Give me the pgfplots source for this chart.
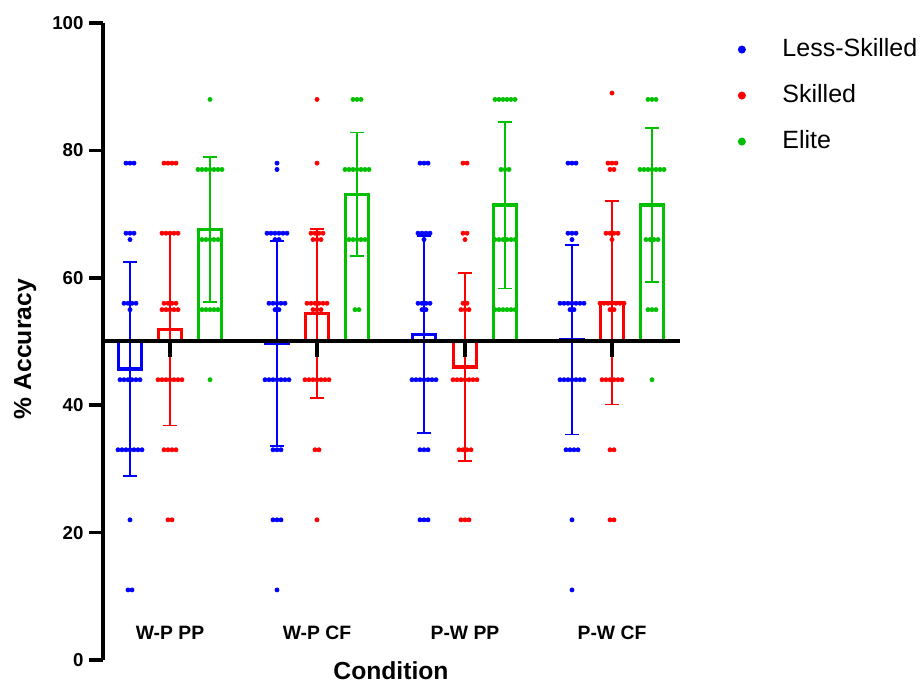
\documentclass[border=0pt]{standalone}
\usepackage{fontspec}
\setmainfont{Liberation Sans}
\usepackage{pgfplots}
\usepackage{pgfplotstable}
\pgfplotsset{compat=1.18}
\definecolor{lsblue}{RGB}{0,0,255}
\definecolor{skred}{RGB}{255,0,0}
\definecolor{elgreen}{RGB}{0,192,0}

% bars: x position (px-like units), mean, sd
\pgfplotstableread[row sep=\\]{
x m sd\\ 130 45.7 16.8\\ 277 49.7 16.1\\ 424 51.1 15.5\\ 572 50.3 14.9\\
}\barless
\pgfplotstableread[row sep=\\]{
x m sd\\ 170 51.9 15.1\\ 317 54.4 13.3\\ 465 46.0 14.8\\ 612 56.1 16.0\\
}\barskilled
\pgfplotstableread[row sep=\\]{
x m sd\\ 210 67.6 11.4\\ 357 73.1 9.7\\ 505 71.4 13.1\\ 652 71.4 12.1\\
}\barelite

% individual scores
\pgfplotstableread[row sep=\\]{
x y\\
126 78\\ 130 78\\ 134 78\\
126 67\\ 130 67\\ 134 67\\ 130 66\\
124 56\\ 128 56\\ 132 56\\ 136 56\\ 130 55\\
120 44\\ 124 44\\ 128 44\\ 132 44\\ 136 44\\ 140 44\\
118 33\\ 122 33\\ 126 33\\ 130 33\\ 134 33\\ 138 33\\ 142 33\\
130 22\\ 128 11\\ 132 11\\
277 78\\ 277 77\\
267 67\\ 271 67\\ 275 67\\ 279 67\\ 283 67\\ 287 67\\ 275 66\\ 279 66\\
269 56\\ 273 56\\ 277 56\\ 281 56\\ 285 56\\ 275 55\\ 279 55\\
265 44\\ 269 44\\ 273 44\\ 277 44\\ 281 44\\ 285 44\\ 289 44\\
273 33\\ 277 33\\ 281 33\\ 273 22\\ 277 22\\ 281 22\\ 277 11\\
420 78\\ 424 78\\ 428 78\\
418 67\\ 422 67\\ 426 67\\ 430 67\\ 424 66\\
418 56\\ 422 56\\ 426 56\\ 430 56\\ 422 55\\ 426 55\\
412 44\\ 416 44\\ 420 44\\ 424 44\\ 428 44\\ 432 44\\ 436 44\\
420 33\\ 424 33\\ 428 33\\ 420 22\\ 424 22\\ 428 22\\
568 78\\ 572 78\\ 576 78\\
568 67\\ 572 67\\ 576 67\\ 572 66\\
560 56\\ 564 56\\ 568 56\\ 572 56\\ 576 56\\ 580 56\\ 584 56\\ 570 55\\ 574 55\\
560 44\\ 564 44\\ 568 44\\ 572 44\\ 576 44\\ 580 44\\ 584 44\\
566 33\\ 570 33\\ 574 33\\ 578 33\\ 572 22\\ 572 11\\
}\dotless
\pgfplotstableread[row sep=\\]{
x y\\
164 78\\ 168 78\\ 172 78\\ 176 78\\
162 67\\ 166 67\\ 170 67\\ 174 67\\ 178 67\\
164 56\\ 168 56\\ 172 56\\ 176 56\\
162 55\\ 166 55\\ 170 55\\ 174 55\\ 178 55\\
158 44\\ 162 44\\ 166 44\\ 170 44\\ 174 44\\ 178 44\\ 182 44\\
164 33\\ 168 33\\ 172 33\\ 176 33\\ 168 22\\ 172 22\\
317 88\\ 317 78\\
311 67\\ 315 67\\ 319 67\\ 323 67\\ 313 66\\ 317 66\\ 321 66\\
307 56\\ 311 56\\ 315 56\\ 319 56\\ 323 56\\ 327 56\\ 313 55\\ 317 55\\ 321 55\\
305 44\\ 309 44\\ 313 44\\ 317 44\\ 321 44\\ 325 44\\ 329 44\\
315 33\\ 319 33\\ 317 22\\
463 78\\ 467 78\\ 463 67\\ 467 67\\ 465 66\\
463 56\\ 467 56\\ 461 55\\ 465 55\\ 469 55\\
453 44\\ 457 44\\ 461 44\\ 465 44\\ 469 44\\ 473 44\\ 477 44\\
459 33\\ 463 33\\ 467 33\\ 471 33\\ 461 22\\ 465 22\\ 469 22\\
612 89\\ 608 78\\ 612 78\\ 616 78\\ 610 77\\ 614 77\\
606 67\\ 610 67\\ 614 67\\ 618 67\\ 612 66\\
600 56\\ 604 56\\ 608 56\\ 612 56\\ 616 56\\ 620 56\\ 624 56\\ 610 55\\ 614 55\\
602 44\\ 606 44\\ 610 44\\ 614 44\\ 618 44\\ 622 44\\
610 33\\ 614 33\\ 610 22\\ 614 22\\
}\dotskilled
\pgfplotstableread[row sep=\\]{
x y\\
210 88\\
198 77\\ 202 77\\ 206 77\\ 210 77\\ 214 77\\ 218 77\\ 222 77\\
202 66\\ 206 66\\ 210 66\\ 214 66\\ 218 66\\
202 55\\ 206 55\\ 210 55\\ 214 55\\ 218 55\\ 210 44\\
353 88\\ 357 88\\ 361 88\\
345 77\\ 349 77\\ 353 77\\ 357 77\\ 361 77\\ 365 77\\ 369 77\\
349 66\\ 353 66\\ 357 66\\ 361 66\\ 365 66\\ 355 55\\ 359 55\\
495 88\\ 499 88\\ 503 88\\ 507 88\\ 511 88\\ 515 88\\
501 77\\ 505 77\\ 509 77\\
495 66\\ 499 66\\ 503 66\\ 507 66\\ 511 66\\ 515 66\\
495 55\\ 499 55\\ 503 55\\ 507 55\\ 511 55\\ 515 55\\
648 88\\ 652 88\\ 656 88\\
640 77\\ 644 77\\ 648 77\\ 652 77\\ 656 77\\ 660 77\\ 664 77\\
646 66\\ 650 66\\ 654 66\\ 658 66\\
648 55\\ 652 55\\ 656 55\\ 652 44\\
}\dotelite

\begin{document}
\begin{tikzpicture}
\begin{axis}[
    scale only axis,
    width=432.75pt,
    height=477.75pt,
    xmin=103, xmax=680,
    ymin=-50, ymax=50,
    axis x line=none,
    axis y line*=left,
    axis line style={line width=2.6pt, black},
    ytick={-50,-30,-10,10,30,50},
    yticklabels={0,20,40,60,80,100},
    /pgf/number format/assume math mode=true,
    yticklabel style={font=\fontsize{14}{16}\selectfont\bfseries, inner sep=0pt, xshift=-4pt},
    tick align=outside,
    major tick length=10.5pt,
    ytick style={line width=2.6pt, black},
    clip=false,
    legend cell align=left,
    legend image code/.code={
        \path (0cm,0cm) (0.6cm,0cm);
        \fill[#1] (0.3cm,0cm) circle (1.6pt);
    },
    legend style={at={(axis cs:728.5,47.65)}, anchor=north west, inner sep=0pt,
        draw=none, fill=none, font=\fontsize{18.75}{22}\selectfont,
        row sep=17.5pt,
        nodes={text height=13.5pt, text depth=3.5pt, inner ysep=0pt, inner xsep=0pt},
        /tikz/every odd column/.append style={column sep=20.6pt}},
]
% mean bars drawn up or down from the 50 % line, with SD error bars
\addplot[ybar, bar width=23, bar shift=0pt, draw=lsblue, fill=none, line width=2.6pt,
    error bars/.cd, y dir=both, y explicit,
    error bar style={line width=1.3pt, lsblue},
    error mark options={rotate=90, mark size=4.9pt, line width=1.3pt, lsblue}]
    table[x=x, y expr=\thisrow{m}-50, y error=sd] {\barless};
\addplot[ybar, bar width=23, bar shift=0pt, draw=skred, fill=none, line width=2.6pt,
    error bars/.cd, y dir=both, y explicit,
    error bar style={line width=1.3pt, skred},
    error mark options={rotate=90, mark size=4.9pt, line width=1.3pt, skred}]
    table[x=x, y expr=\thisrow{m}-50, y error=sd] {\barskilled};
\addplot[ybar, bar width=23, bar shift=0pt, draw=elgreen, fill=none, line width=2.6pt,
    error bars/.cd, y dir=both, y explicit,
    error bar style={line width=1.3pt, elgreen},
    error mark options={rotate=90, mark size=4.9pt, line width=1.3pt, elgreen}]
    table[x=x, y expr=\thisrow{m}-50, y error=sd] {\barelite};

\addplot[only marks, mark=*, mark size=1.6pt, color=lsblue] table[x=x, y expr=\thisrow{y}-50] {\dotless};
\addlegendentry{Less-Skilled}
\addplot[only marks, mark=*, mark size=1.6pt, color=skred] table[x=x, y expr=\thisrow{y}-50] {\dotskilled};
\addlegendentry{Skilled}
\addplot[only marks, mark=*, mark size=1.6pt, color=elgreen] table[x=x, y expr=\thisrow{y}-50] {\dotelite};
\addlegendentry{Elite}

% x axis at 50 with downward ticks
\draw[line width=3pt] (axis cs:103,0) -- (axis cs:680,0);
\draw[line width=2.4pt] (axis cs:170,0) -- (axis cs:170,-2.5);
\draw[line width=2.4pt] (axis cs:317,0) -- (axis cs:317,-2.5);
\draw[line width=2.4pt] (axis cs:465,0) -- (axis cs:465,-2.5);
\draw[line width=2.4pt] (axis cs:612,0) -- (axis cs:612,-2.5);

\node[font=\fontsize{14.5}{16}\selectfont\bfseries] at (axis cs:170,-45.76) {W-P PP};
\node[font=\fontsize{14.5}{16}\selectfont\bfseries] at (axis cs:317,-45.76) {W-P CF};
\node[font=\fontsize{14.5}{16}\selectfont\bfseries] at (axis cs:465,-45.76) {P-W PP};
\node[font=\fontsize{14.5}{16}\selectfont\bfseries] at (axis cs:612,-45.76) {P-W CF};
\node[font=\fontsize{18.5}{20}\selectfont\bfseries] at (axis cs:391,-51.7) {Condition};
\node[rotate=90, font=\fontsize{18.5}{20}\selectfont\bfseries] at (axis cs:25,-1.2) {\% Accuracy};

\coordinate (bbsw) at (axis cs:0,-54.08);
\coordinate (bbne) at (axis cs:921,53.61);
\end{axis}
\pgfresetboundingbox
\useasboundingbox (bbsw) rectangle (bbne);
\end{tikzpicture}
\end{document}
